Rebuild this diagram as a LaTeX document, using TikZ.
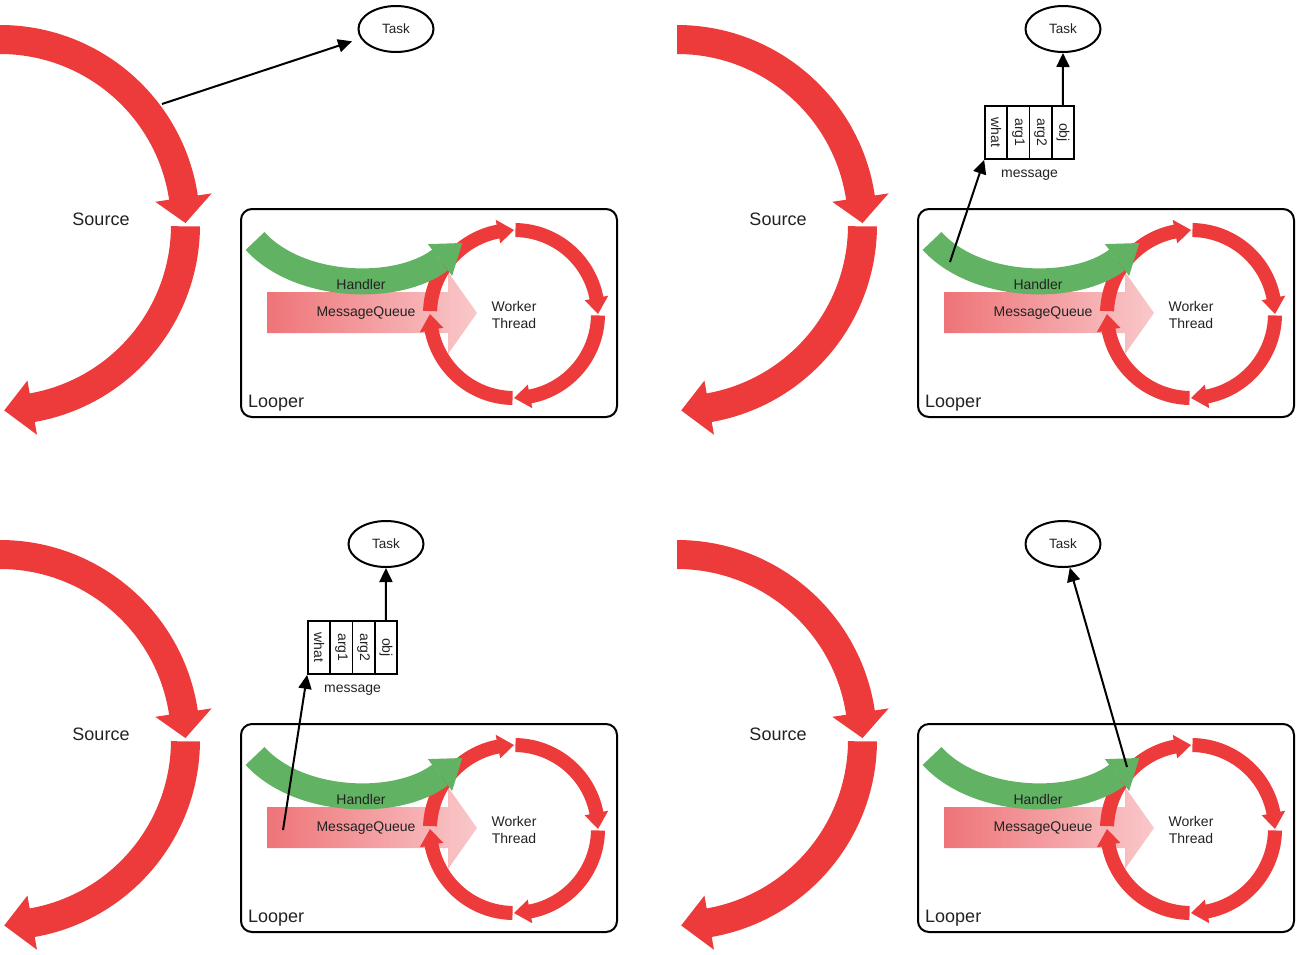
\documentclass[tikz,border=0pt]{standalone}
\usepackage{fontspec}
\setmainfont{Liberation Sans}
\usetikzlibrary{arrows.meta,shapes.geometric,calc}
\definecolor{srcred}{RGB}{237,58,58}
\definecolor{hgreen}{RGB}{98,178,100}
\definecolor{mqleft}{RGB}{238,116,120}
\definecolor{mqright}{RGB}{249,200,202}
\definecolor{txt}{RGB}{34,34,34}
\tikzset{
  conn/.style={line width=2pt, -{Triangle[length=14pt,width=13pt]}},
  taskbox/.style={ellipse, draw, line width=2pt, minimum width=75pt, minimum height=46pt, inner sep=0pt, font=\fontsize{13.5}{16}\selectfont, text=txt, fill=white},
  looperbox/.style={draw, line width=2pt, rounded corners=11pt, inner sep=0pt},
  cellbox/.style={draw, line width=1.6pt, minimum width=22.3pt, minimum height=53pt, inner sep=0pt, fill=white},
  celltext/.style={rotate=-90, font=\fontsize{14}{16}\selectfont, text=txt, inner sep=0pt},
  bigtext/.style={font=\fontsize{18}{20}\selectfont, text=txt},
  midtext/.style={font=\fontsize{14}{17}\selectfont, text=txt},
}
% #1 colour, #2 centre, #3 inner r, #4 outer r, #5 start angle, #6 shaft end angle, #7 tip angle, #8 wing overhang
\newcommand\ringarrow[8]{%
  \fill[#1,shift={#2}] (#5:#4) arc[start angle=#5,end angle=#6,radius=#4]
    -- (#6:{#4+#8}) -- (#7:{(#3+#4)/2}) -- (#6:{#3-#8}) -- (#6:#3)
    arc[start angle=#6,end angle=#5,radius=#3] -- cycle;}
\newcommand\panelbase{%
  \ringarrow{srcred}{(0,-225)}{171}{200}{90}{8.5}{0.6}{14}
  \ringarrow{srcred}{(0,-225)}{171}{200}{-0.4}{-80}{-88.7}{13}
  \node[bigtext] (source) at (101,-219) {Source};
  \node[looperbox, minimum width=376pt, minimum height=208pt] (looper) at (429,-313) {};
  \node[bigtext, anchor=base west, inner sep=0pt] (looperlabel) at (248,-407) {Looper};
  \shade[left color=mqleft, right color=mqright] (267,-292) -- (448,-292) -- (448,-272) -- (477,-313) -- (448,-354) -- (448,-333) -- (267,-333) -- cycle;
  \ringarrow{srcred}{(514,-314)}{77}{91}{178}{101}{90}{5}
  \ringarrow{srcred}{(514,-314)}{77}{91}{89}{11}{0}{5}
  \ringarrow{srcred}{(514,-314)}{77}{91}{-1}{-79}{-90}{5}
  \ringarrow{srcred}{(514,-314)}{77}{91}{-91}{-169}{-180}{5}
  \draw[hgreen, line width=26pt] (255,-241) .. controls (300,-290) and (398,-292) .. (440,-260);
  \fill[hgreen] (452.1,-275.9) -- (462.3,-243) -- (427.9,-244.1) -- cycle;
  \node[midtext] (handler) at (361,-284) {Handler};
  \node[midtext] (mq) at (366,-313) {MessageQueue};
  \node[midtext, align=center] (worker) at (514,-315) {Worker\\Thread};
}
\newcommand\msgbox{%
  \node[cellbox] (what) at (319.1,-132.5) {};
  \node[cellbox] (arg1) at (341.4,-132.5) {};
  \node[cellbox] (arg2) at (363.6,-132.5) {};
  \node[cellbox] (obj) at (385.9,-132.5) {};
  \node[celltext] (whatt) at (what) {what};
  \node[celltext] (arg1t) at (arg1) {arg1};
  \node[celltext] (arg2t) at (arg2) {arg2};
  \node[celltext] (objt) at (obj) {obj};
  \node[midtext] (msglabel) at (352.5,-175) {message};
}
\begin{document}
\begin{tikzpicture}[x=1pt,y=1pt]
\useasboundingbox (0,0) rectangle (1303,-954);
\begin{scope}[name prefix=pa-]
  \panelbase
  \node[taskbox] (task) at (396,-29) {Task};
  \coordinate (from) at (162,-104);
  \draw[conn, shorten >=9pt] (from) -- (task.195);
\end{scope}
\begin{scope}[shift={(677,0)}, name prefix=pb-]
  \panelbase
  \node[taskbox] (task) at (386,-29) {Task};
  \msgbox
  \coordinate (from) at (273,-262);
  \draw[conn] (from) -- (what.south west);
  \draw[conn] (obj.north) -- (task);
\end{scope}
\begin{scope}[shift={(0,-515)}, name prefix=pc-]
  \panelbase
  \node[taskbox] (task) at (386,-29) {Task};
  \msgbox
  \coordinate (from) at (283,-315);
  \draw[conn] (from) -- (what.south west);
  \draw[conn] (obj.north) -- (task);
\end{scope}
\begin{scope}[shift={(677,-515)}, name prefix=pd-]
  \panelbase
  \node[taskbox] (task) at (386,-29) {Task};
  \coordinate (from) at (450,-252);
  \draw[conn] (from) -- (task);
\end{scope}
\end{tikzpicture}
\end{document}
